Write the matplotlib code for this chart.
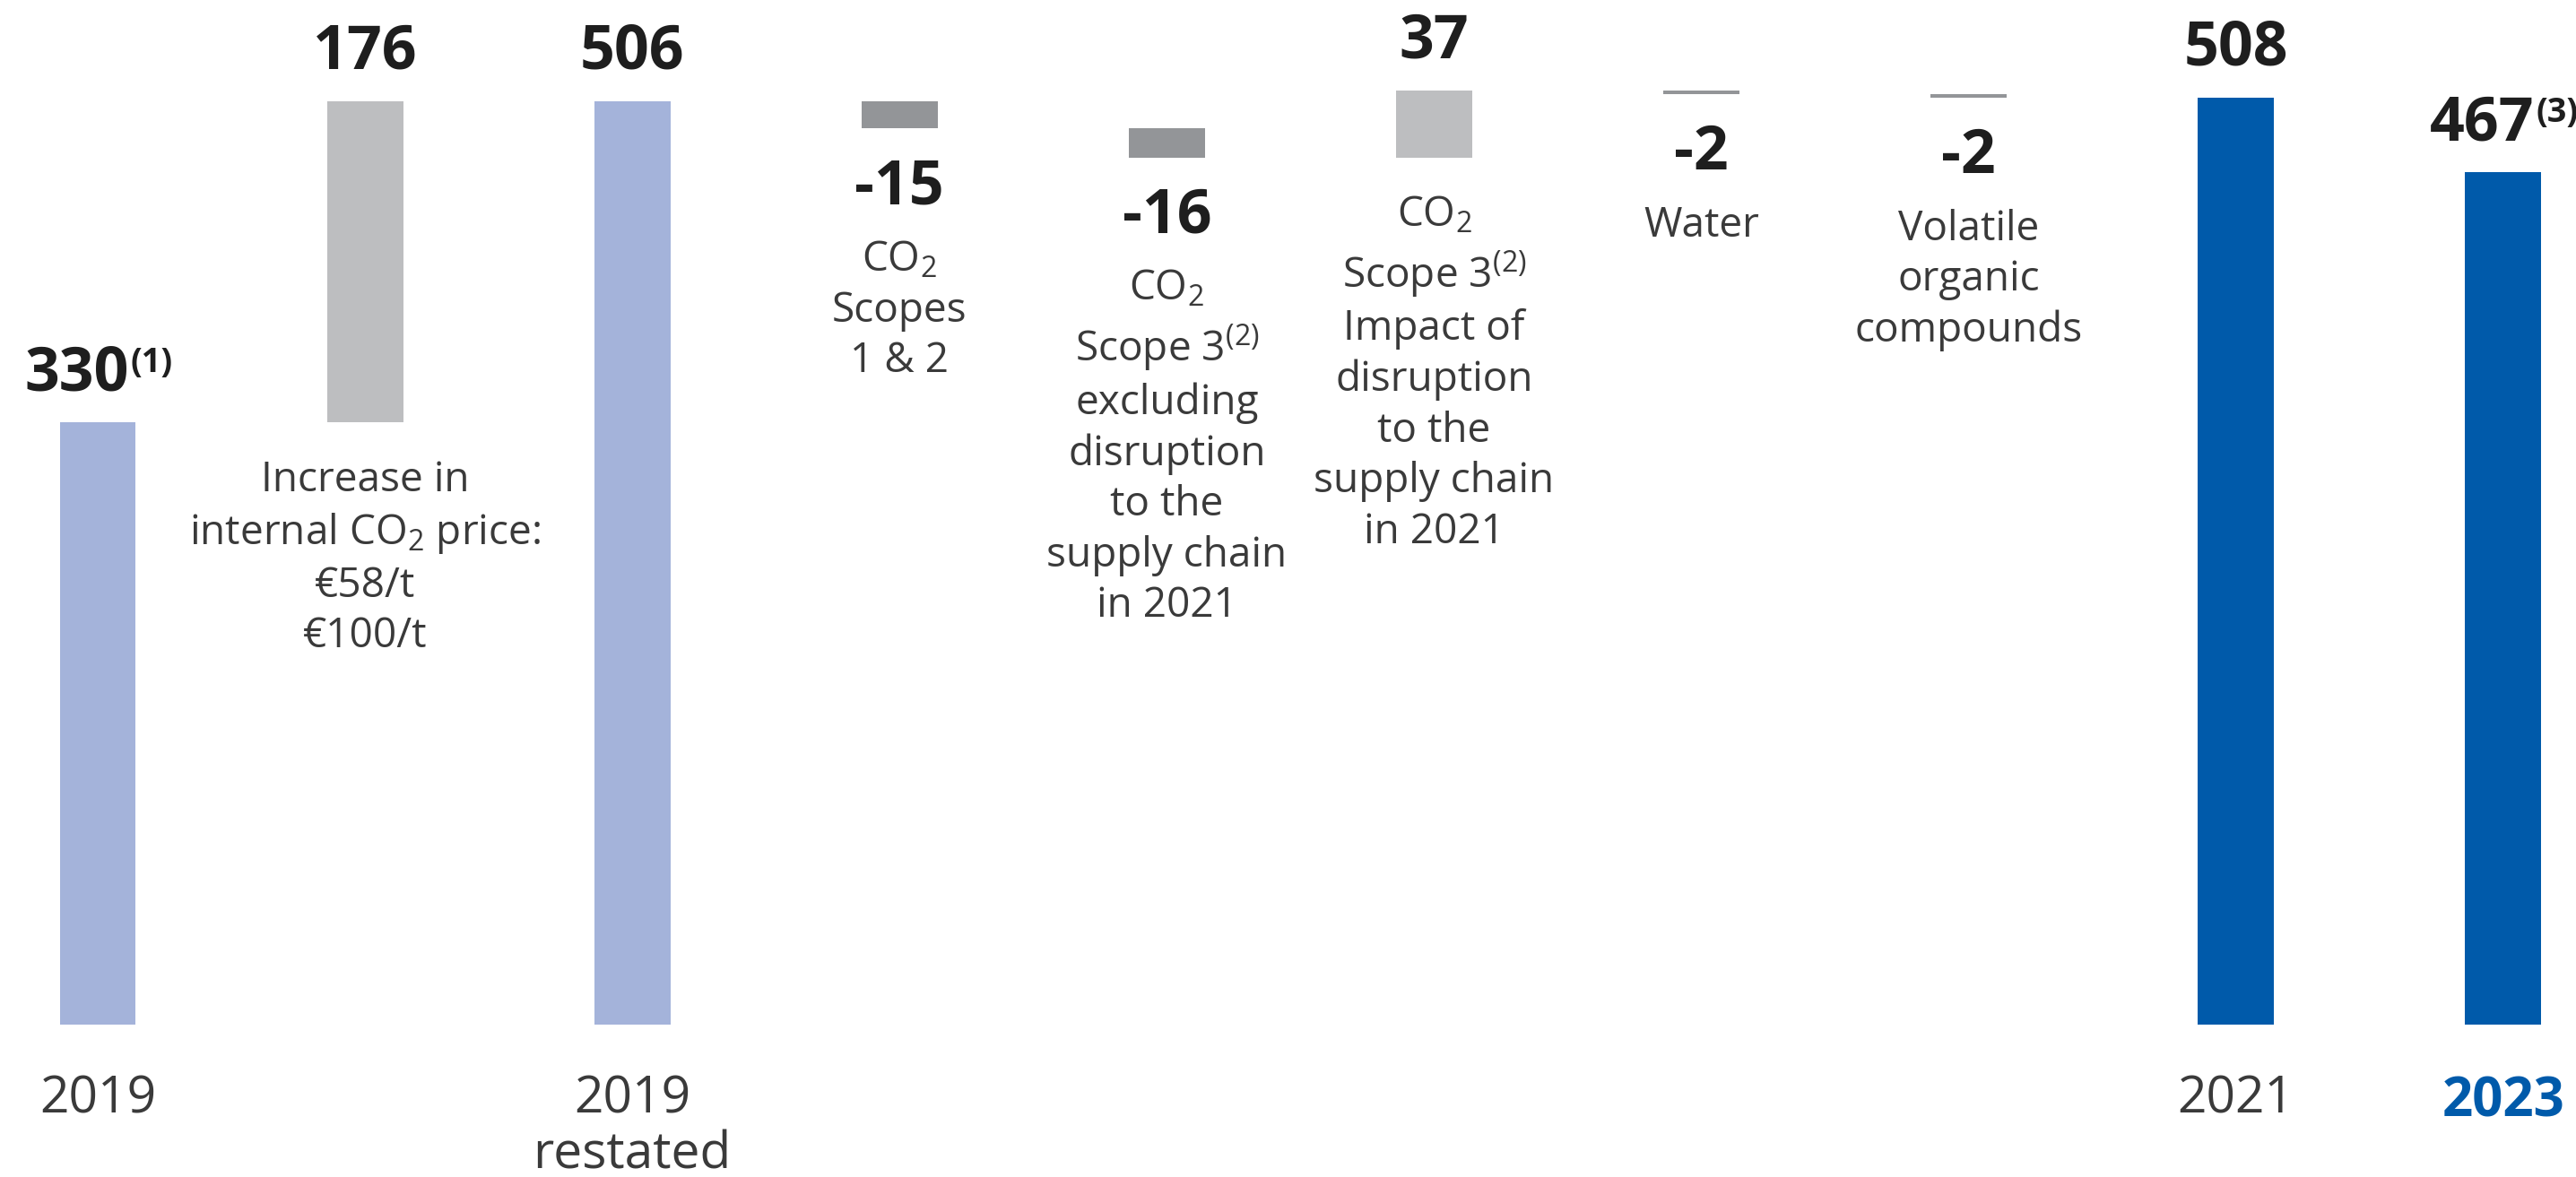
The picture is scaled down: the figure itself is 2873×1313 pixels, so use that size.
import matplotlib
matplotlib.use("Agg")
import matplotlib.pyplot as plt

# ---------------- data ----------------
categories = ["2019", "", "2019\nrestated", "", "", "", "", "", "2021", "2023"]
values = [330, 176, 506, -15, -16, 37, -2, -2, 508, 467]
bar_kinds = ["base", "delta", "base", "delta", "delta", "delta", "delta", "delta", "current", "current"]
value_labels = ["330", "176", "506", "-15", "-16", "37", "-2", "-2", "508", "467"]
footnotes = ["(1)", "", "", "", "", "", "", "", "", "(3)"]
descriptions = [
    "",
    "Increase in\ninternal CO$_2$ price:\n€58/t\n€100/t",
    "",
    "CO$_2$\nScopes\n1 & 2",
    "CO$_2$\nScope 3$^{(2)}$\nexcluding\ndisruption\nto the\nsupply chain\nin 2021",
    "CO$_2$\nScope 3$^{(2)}$\nImpact of\ndisruption\nto the\nsupply chain\nin 2021",
    "Water",
    "Volatile\norganic\ncompounds",
    "",
    "",
]

# ---------------- style ----------------
plt.rcParams["font.family"] = ["Open Sans", "DejaVu Sans"]
plt.rcParams["mathtext.fontset"] = "custom"
plt.rcParams["mathtext.rm"] = "Open Sans"
plt.rcParams["mathtext.it"] = "Open Sans:italic"
plt.rcParams["mathtext.bf"] = "Open Sans:bold"
plt.rcParams["mathtext.default"] = "regular"

COL_BASE = "#A4B3DA"
COL_CURRENT = "#005AAA"
COL_UP = "#BDBEC0"
COL_DOWN = "#939598"
TXT_DARK = "#1E1E1E"
TXT_MID = "#3A3A3A"

W, H, DPI = 2873, 1313, 100
PX = 72.0 / DPI  # points per pixel

fig = plt.figure(figsize=(W / DPI, H / DPI), dpi=DPI)
base_px = 170          # axes bottom (bar baseline) from figure bottom, px
ax = fig.add_axes([0, base_px / H, 1, 1 - base_px / H])

px_per_unit = 2.036
center0, spacing = 109, 298.1
ax.set_xlim(-center0 / spacing, (W - center0) / spacing)
ax.set_ylim(0, (H - base_px) / px_per_unit)
for s in ax.spines.values():
    s.set_visible(False)
ax.set_yticks([])

# ---------------- waterfall geometry ----------------
bottoms, heights, colors = [], [], []
running = 0
for v, k in zip(values, bar_kinds):
    if k == "delta":
        b = running
        running = running + v
        colors.append(COL_UP if v > 0 else COL_DOWN)
    else:
        b = 0
        running = v
        colors.append(COL_BASE if k == "base" else COL_CURRENT)
    bottoms.append(b)
    heights.append(v)

xs = list(range(len(values)))
ax.bar(xs, heights, bottom=bottoms, width=0.285, color=colors, linewidth=0)

# ---------------- labels ----------------
VAL_FS = 68 * PX
SUP_FS = 38 * PX
DESC_FS = 46 * PX
renderer = fig.canvas.get_renderer()

for x, v, b, lab, fn, desc in zip(xs, values, bottoms, value_labels, footnotes, descriptions):
    top = max(b, b + v)
    low = min(b, b + v)
    if v > 0:
        anchor_y, dy = top, 36
    else:
        anchor_y, dy = low, -84
    main = ax.annotate(lab, xy=(x, anchor_y), xytext=(0, dy * PX), textcoords="offset points",
                       ha="center", va="baseline", fontsize=VAL_FS, fontweight="bold",
                       color=TXT_DARK)
    if fn:
        sup = ax.annotate(fn, xy=(x, anchor_y), xytext=(0, (dy + 20) * PX),
                          textcoords="offset points", ha="left", va="baseline",
                          fontsize=SUP_FS, fontweight="bold", color=TXT_DARK)
        wm = main.get_window_extent(renderer).width
        ws = sup.get_window_extent(renderer).width
        total = wm + ws
        # centre the combined label on the bar
        main.set_ha("left")
        main.xyann = (-total / 2 * PX, dy * PX)
        sup.xyann = ((-total / 2 + wm + 2) * PX, (dy + 20) * PX)
    if desc:
        off = -42 if v > 0 else -124
        ax.annotate(desc, xy=(x, low), xytext=(0, off * PX), textcoords="offset points",
                    ha="center", va="top", fontsize=DESC_FS, color=TXT_MID,
                    linespacing=1.3, multialignment="center")

ax.set_xticks(xs)
ax.set_xticklabels(categories, fontsize=57 * PX, color=TXT_MID, linespacing=1.1)
ax.tick_params(axis="x", length=0, pad=56 * PX)
last = ax.get_xticklabels()[-1]
last.set_color(COL_CURRENT)
last.set_fontweight("bold")
last.set_fontsize(60 * PX)

fig.savefig("out.png", dpi=DPI)
